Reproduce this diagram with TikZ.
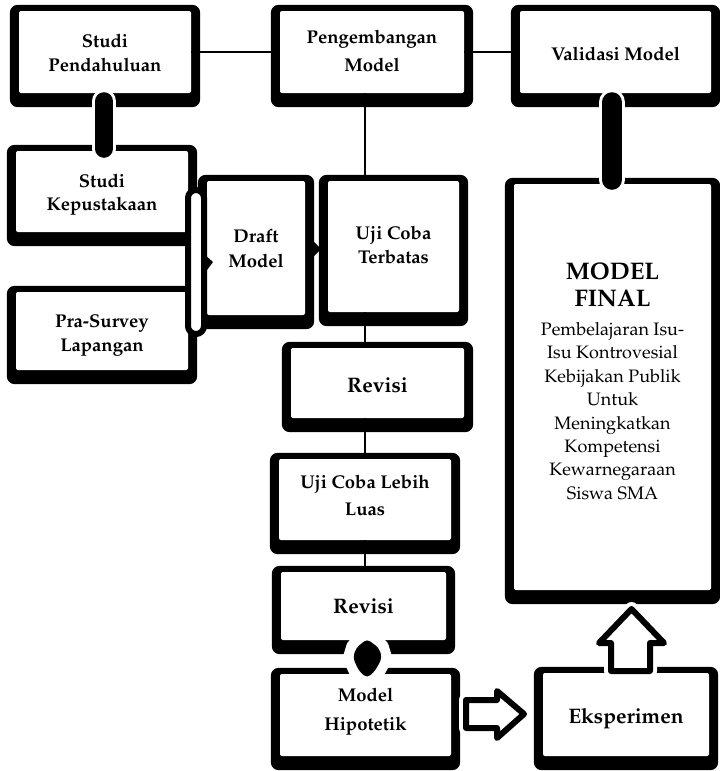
\documentclass[tikz,border=0pt]{standalone}
\usepackage[T1]{fontenc}
\usepackage{mathpazo}
\usetikzlibrary{backgrounds,calc}
\tikzset{
  bx/.style={fill=white, inner sep=0pt, rounded corners=2pt, font=\bfseries},
  thinline/.style={line width=2pt},
  bar/.style={line width=18pt, line cap=round, black},
  barhalo/.style={line width=24pt, line cap=round, white},
  hollow/.style={line width=6pt, line join=round, fill=white, draw=black},
  hollowhalo/.style={line width=14pt, line join=round, draw=white},
}
% #1 font size, #2 line spacing, #3 vertical raise, #4 lines
\newcommand\tx[4]{\fontsize{#1}{#2}\selectfont\raisebox{#3}[\height][\depth]{\begin{tabular}{@{}c@{}}#4\end{tabular}}}
\newcommand\frm[1]{\fill[black, rounded corners=8pt] ([shift={(-9,-6)}]#1.north west) rectangle ([shift={(9,14)}]#1.south east);}
\begin{document}
\begin{tikzpicture}[x=1pt,y=-1pt]
\useasboundingbox (0,0) rectangle (720,771);
% boxes (inner white areas)
\node[bx, minimum width=172, minimum height=82] (sp) at (105,52) {\tx{18.5}{25}{-2.5pt}{Studi\\Pendahuluan}};
\node[bx, minimum width=184, minimum height=82] (pm) at (372,52) {\tx{18.5}{28}{0.6pt}{Pengembangan\\Model}};
\node[bx, minimum width=191, minimum height=82] (vm) at (615.5,52) {\tx{18.5}{24}{-3.2pt}{Validasi Model}};
\node[bx, minimum width=172, minimum height=81] (sk) at (102,191.5) {\tx{18.5}{23}{-3pt}{Studi\\Kepustakaan}};
\node[bx, minimum width=172, minimum height=78] (ps) at (102,331) {\tx{18.5}{24}{-4pt}{Pra-Survey\\Lapangan}};
\node[bx, minimum width=98, minimum height=134] (dm) at (256,248) {\tx{18.5}{25}{-2pt}{Draft\\Model}};
\node[bx, minimum width=131, minimum height=131] (ut) at (393.5,246.5) {\tx{18.5}{24}{0pt}{Uji Coba\\Terbatas}};
\node[bx, minimum width=173, minimum height=70] (r1) at (377.5,383) {\tx{21}{25}{-4pt}{Revisi}};
\node[bx, minimum width=172, minimum height=81] (ul) at (365,499.5) {\tx{18.5}{27}{3pt}{Uji Coba Lebih\\Luas}};
\node[bx, minimum width=165, minimum height=68] (r2) at (363.5,606) {\tx{21}{25}{-2pt}{Revisi}};
\node[bx, minimum width=171, minimum height=82] (mh) at (365.5,715) {\tx{18.5}{29}{5pt}{Model\\Hipotetik}};
\node[bx, minimum width=166, minimum height=83] (ek) at (626,714.5) {\tx{21}{25}{-3.5pt}{Eksperimen}};
\node[bx, minimum width=197, minimum height=406] (mf) at (612.5,387)
  {\tx{18}{23.4}{2.3pt}{\fontsize{24}{30}\selectfont MODEL\\[2.6pt]
   \fontsize{24}{30}\selectfont FINAL\\[5.6pt]
   \mdseries Pembelajaran Isu-\\ \mdseries Isu Kontrovesial\\ \mdseries Kebijakan Publik\\
   \mdseries Untuk\\ \mdseries Meningkatkan\\ \mdseries Kompetensi\\ \mdseries Kewarnegaraan\\
   \mdseries Siswa SMA}};
% coordinates
\coordinate (lx) at (365,0);
\coordinate (brA) at (188,190);
\coordinate (brB) at (204,334);
\coordinate (brTip) at (213,262);
\coordinate (dmTip) at (321,249);
% up arrow and right arrow outlines
\def\uparrowpath{(611,671) -- (611,643) -- (599,643) -- (631.5,609) -- (664,643) -- (650,643) -- (650,671) -- cycle}
\def\rtarrowpath{(466,700) -- (497,700) -- (497,691) -- (524,714) -- (497,738) -- (497,728) -- (466,728) -- cycle}
\def\blobpath{(367,639) -- (379,648) -- (382,658) -- (375,671) -- (367,678) -- (359,671) -- (353,658) -- (356,648) -- cycle}
\begin{scope}[on background layer]
  \frm{sp}\frm{pm}\frm{vm}\frm{sk}\frm{ps}\frm{dm}\frm{ut}
  \frm{r1}\frm{ul}\frm{r2}\frm{mh}\frm{ek}\frm{mf}
  % white halos where connectors cut the frames
  \draw[barhalo] ($(sp.south)+(-1,8)$) -- ($(sk.north)+(2,-2)$);
  \draw[barhalo, line width=26pt] ($(vm.south)+(-3.5,9)$) -- ($(mf.north)+(-0.5,-4)$);
  \draw[white, line width=20pt, line join=round, fill=white] \blobpath;
  \draw[hollowhalo] \uparrowpath;
  \draw[hollowhalo] \rtarrowpath;
\end{scope}
% thin connectors
\draw[thinline] (sp.east) -- (pm.west);
\draw[thinline] (pm.east) -- (vm.west);
\draw[thinline] (pm.south -| lx) -- (ut.north -| lx);
\draw[thinline] (ut.south -| lx) -- (r1.north -| lx);
\draw[thinline] (r1.south -| lx) -- (ul.north -| lx);
\draw[thinline] (ul.south -| lx) -- (r2.north -| lx);
% thick bars
\draw[bar] ($(sp.south)+(-1,8)$) -- ($(sk.north)+(2,-2)$);
\draw[bar, line width=20pt] ($(vm.south)+(-3.5,9)$) -- ($(mf.north)+(-0.5,-4)$);
% bracket joining Studi Kepustakaan and Pra-Survey into Draft Model
\draw[line width=6pt, fill=white, rounded corners=8pt] (brA) rectangle (brB);
\fill (brB |- brTip) ++(0,-8) -- (brTip) -- ++(-6,8) -- cycle;
% Draft Model -> Uji Coba Terbatas
\fill (dm.east |- dmTip) ++(8,-8) -- (dmTip) -- ++(-8,8) -- cycle;
% blob between Revisi and Model Hipotetik
\fill[rounded corners=4pt] \blobpath;
% hollow arrows
\draw[hollow] \uparrowpath;
\draw[hollow] \rtarrowpath;
\end{tikzpicture}
\end{document}
